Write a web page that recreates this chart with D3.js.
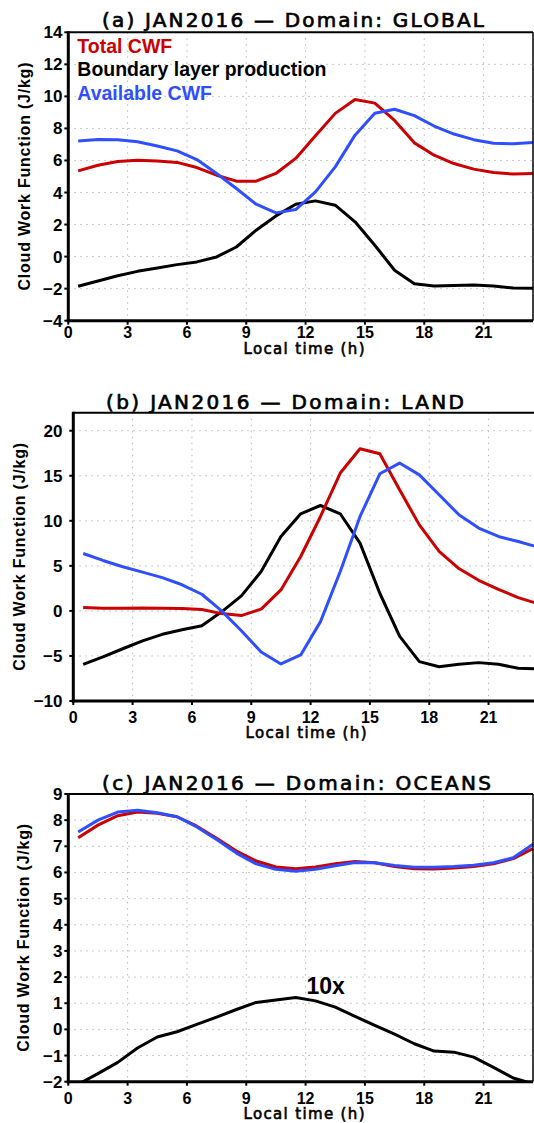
<!DOCTYPE html>
<html>
<head>
<meta charset="utf-8">
<script src="https://cdn.jsdelivr.net/npm/d3@7"></script>
<style>
  body { margin: 0; background: #fff; }
  svg { display: block; }
</style>
</head>
<body>
<svg id="chart" width="534" height="1123"></svg>
<script>
// local time of each sample (h)
const hours = [0.5, 1.5, 2.5, 3.5, 4.5, 5.5, 6.5, 7.5, 8.5, 9.5, 10.5, 11.5,
               12.5, 13.5, 14.5, 15.5, 16.5, 17.5, 18.5, 19.5, 20.5, 21.5, 22.5, 23.5];
const xTicks = [0, 3, 6, 9, 12, 15, 18, 21];

// (a) global
const globalTotal = [5.35, 5.7, 5.94, 6.02, 5.96, 5.88, 5.56, 5.08, 4.71, 4.71, 5.19, 6.13,
                     7.55, 8.94, 9.81, 9.58, 8.5, 7.1, 6.33, 5.81, 5.46, 5.25, 5.15, 5.19];
const globalBoundary = [-1.85, -1.52, -1.19, -0.92, -0.71, -0.5, -0.33, -0.02, 0.6, 1.65, 2.54, 3.27,
                        3.48, 3.21, 2.17, 0.71, -0.85, -1.69, -1.83, -1.81, -1.77, -1.83, -1.96, -1.98];
const globalAvailable = [7.21, 7.31, 7.29, 7.17, 6.9, 6.6, 6.06, 5.19, 4.25, 3.27, 2.73, 2.94,
                         4.04, 5.6, 7.58, 8.95, 9.2, 8.8, 8.15, 7.65, 7.3, 7.08, 7.04, 7.12];
const globalTicks = [-4, -2, 0, 2, 4, 6, 8, 10, 12, 14];

// (b) land
const landTotal = [0.37, 0.3, 0.3, 0.33, 0.3, 0.26, 0.15, -0.3, -0.52, 0.2, 2.33, 6.04,
                   10.48, 15.3, 18.0, 17.44, 13.44, 9.55, 6.6, 4.7, 3.4, 2.4, 1.48, 0.8];
const landBoundary = [-5.93, -5.1, -4.2, -3.33, -2.6, -2.1, -1.65, -0.1, 1.67, 4.37, 8.26, 10.78,
                      11.7, 10.78, 7.52, 1.96, -2.8, -5.63, -6.19, -5.93, -5.74, -5.93, -6.37, -6.45];
const landAvailable = [6.37, 5.6, 4.9, 4.3, 3.7, 2.9, 1.85, 0.0, -2.2, -4.56, -5.89, -4.89,
                       -1.19, 4.37, 10.48, 15.22, 16.41, 15.1, 12.9, 10.67, 9.19, 8.26, 7.7, 7.07];
const landTicks = [-10, -5, 0, 5, 10, 15, 20];

// (c) oceans, boundary layer term multiplied by 10
const oceanTotal = [7.33, 7.81, 8.17, 8.31, 8.26, 8.13, 7.77, 7.31, 6.82, 6.44, 6.21, 6.14,
                    6.21, 6.33, 6.42, 6.37, 6.23, 6.14, 6.13, 6.17, 6.23, 6.33, 6.53, 6.91];
const oceanBoundary10x = [-2.1, -1.69, -1.26, -0.71, -0.29, -0.09, 0.19, 0.47, 0.76, 1.03, 1.12, 1.22,
                          1.09, 0.85, 0.5, 0.15, -0.18, -0.55, -0.83, -0.87, -1.06, -1.45, -1.86, -2.08];
const oceanAvailable = [7.55, 8.0, 8.31, 8.38, 8.28, 8.13, 7.74, 7.26, 6.74, 6.33, 6.12, 6.05,
                        6.12, 6.26, 6.38, 6.37, 6.27, 6.2, 6.2, 6.23, 6.28, 6.37, 6.56, 7.08];
const oceanTicks = [-2, -1, 0, 1, 2, 3, 4, 5, 6, 7, 8, 9];

const legendNames = ["Total CWF", "Boundary layer production", "Available CWF"];

const RED = "#cc0000", BLACK = "#000000", BLUE = "#2f4fff";
const hershey = "'DejaVu Sans', sans-serif";
const arial = "'Liberation Sans', Arial, sans-serif";

const panels = [
  { title: "(a)  JAN2016  \u2014  Domain:  GLOBAL", titleX: 102, titleY: 27, titleLen: 382,
    left: 68.3, right: 533, top: 32.3, bottom: 320.7, yDomain: [-4, 14], yTicks: globalTicks,
    ylabX: 24, xlabX: 304, tickDy: 17, xlabDy: 33,
    total: globalTotal, boundary: globalBoundary, available: globalAvailable, legend: true },
  { title: "(b)  JAN2016  \u2014  Domain:  LAND", titleX: 106, titleY: 409, titleLen: 358,
    left: 73.3, right: 538, top: 412.7, bottom: 701, yDomain: [-10, 22], yTicks: landTicks,
    ylabX: 19, xlabX: 306, tickDy: 22, xlabDy: 37,
    total: landTotal, boundary: landBoundary, available: landAvailable },
  { title: "(c)  JAN2016  \u2014  Domain:  OCEANS", titleX: 102, titleY: 790, titleLen: 389,
    left: 68.3, right: 533, top: 794, bottom: 1081.7, yDomain: [-2, 9], yTicks: oceanTicks,
    ylabX: 23, xlabX: 304, tickDy: 22, xlabDy: 37,
    total: oceanTotal, boundary: oceanBoundary10x, available: oceanAvailable, note: "10x" }
];

const svg = d3.select("#chart");
const fmt = d => (d < 0 ? "\u2212" + Math.abs(d) : String(d));

function drawPanel(p, i) {
  const x = d3.scaleLinear().domain([0, 23.5]).range([p.left, p.right]);
  const y = d3.scaleLinear().domain(p.yDomain).range([p.bottom, p.top]);
  const g = svg.append("g");

  // dotted grid
  g.selectAll(".vgrid").data(xTicks.slice(1)).enter().append("line")
    .attr("x1", d => x(d)).attr("x2", d => x(d))
    .attr("y1", p.top).attr("y2", p.bottom)
    .attr("stroke", "#b8b8b8").attr("stroke-width", 1).attr("stroke-dasharray", "1.5,4.5");
  g.selectAll(".hgrid").data(p.yTicks.filter(d => y(d) > p.top + 1 && y(d) < p.bottom - 1))
    .enter().append("line")
    .attr("x1", p.left).attr("x2", p.right)
    .attr("y1", d => y(d)).attr("y2", d => y(d))
    .attr("stroke", "#b8b8b8").attr("stroke-width", 1).attr("stroke-dasharray", "1.5,4.5");

  // curves
  g.append("clipPath").attr("id", "clip" + i).append("rect")
    .attr("x", p.left).attr("y", p.top - 2)
    .attr("width", p.right - p.left).attr("height", p.bottom - p.top + 3);
  const line = d3.line().x((d, k) => x(hours[k])).y(d => y(d));
  const series = [[p.boundary, BLACK], [p.total, RED], [p.available, BLUE]];
  series.forEach(s => {
    g.append("path").datum(s[0])
      .attr("d", line)
      .attr("clip-path", "url(#clip" + i + ")")
      .attr("fill", "none").attr("stroke", s[1])
      .attr("stroke-width", 3).attr("stroke-linejoin", "round");
  });

  // frame
  g.append("line").attr("x1", p.left).attr("x2", p.right).attr("y1", p.top).attr("y2", p.top)
    .attr("stroke", "#000").attr("stroke-width", 2);
  g.append("line").attr("x1", p.right).attr("x2", p.right).attr("y1", p.top).attr("y2", p.bottom)
    .attr("stroke", "#000").attr("stroke-width", 1.5);
  g.append("line").attr("x1", p.left).attr("x2", p.left).attr("y1", p.top - 1).attr("y2", p.bottom + 1.5)
    .attr("stroke", "#000").attr("stroke-width", 3);
  g.append("line").attr("x1", p.left - 1.5).attr("x2", p.right).attr("y1", p.bottom).attr("y2", p.bottom)
    .attr("stroke", "#000").attr("stroke-width", 3);

  // ticks and tick labels
  g.selectAll(".yt").data(p.yTicks).enter().append("line")
    .attr("x1", p.left - 4).attr("x2", p.left).attr("y1", d => y(d)).attr("y2", d => y(d))
    .attr("stroke", "#000").attr("stroke-width", 2);
  g.selectAll(".yl").data(p.yTicks).enter().append("text")
    .attr("x", 62.5).attr("y", d => y(d) + 6)
    .attr("text-anchor", "end")
    .style("font-family", arial).style("font-weight", "bold").style("font-size", "17px")
    .text(fmt);
  g.selectAll(".xt").data(xTicks).enter().append("line")
    .attr("x1", d => x(d)).attr("x2", d => x(d)).attr("y1", p.bottom).attr("y2", p.bottom + 4)
    .attr("stroke", "#000").attr("stroke-width", 2);
  g.selectAll(".xl").data(xTicks).enter().append("text")
    .attr("x", d => x(d)).attr("y", p.bottom + p.tickDy)
    .attr("text-anchor", "middle")
    .style("font-family", arial).style("font-weight", "bold").style("font-size", "16px")
    .text(fmt);

  // titles
  g.append("text").attr("x", p.titleX).attr("y", p.titleY)
    .attr("textLength", p.titleLen).attr("lengthAdjust", "spacing")
    .style("font-family", hershey).style("font-size", "20px")
    .style("stroke", "#000").style("stroke-width", 0.7)
    .text(p.title);
  g.append("text").attr("x", p.xlabX).attr("y", p.bottom + p.xlabDy)
    .attr("text-anchor", "middle").attr("textLength", 121).attr("lengthAdjust", "spacing")
    .style("font-family", hershey).style("font-size", "15px")
    .style("stroke", "#000").style("stroke-width", 0.6)
    .text("Local time (h)");
  const cy = (p.top + p.bottom) / 2;
  g.append("text")
    .attr("transform", "translate(" + (p.ylabX + 6) + "," + cy + ") rotate(-90)")
    .attr("text-anchor", "middle").attr("textLength", 228).attr("lengthAdjust", "spacing")
    .style("font-family", arial).style("font-weight", "bold").style("font-size", "16px")
    .text("Cloud Work Function (J/kg)");

  if (p.legend) {
    const colors = [RED, BLACK, BLUE];
    g.selectAll(".leg").data(legendNames).enter().append("text")
      .attr("x", p.left + 9).attr("y", (d, k) => 53 + k * 23.3)
      .attr("fill", (d, k) => colors[k])
      .style("font-family", arial).style("font-weight", "bold").style("font-size", "19.5px")
      .text(d => d);
  }
  if (p.note) {
    g.append("text").attr("x", 306.5).attr("y", 994)
      .style("font-family", arial).style("font-weight", "bold").style("font-size", "23px")
      .text(p.note);
  }
}

panels.forEach(drawPanel);
</script>
</body>
</html>
